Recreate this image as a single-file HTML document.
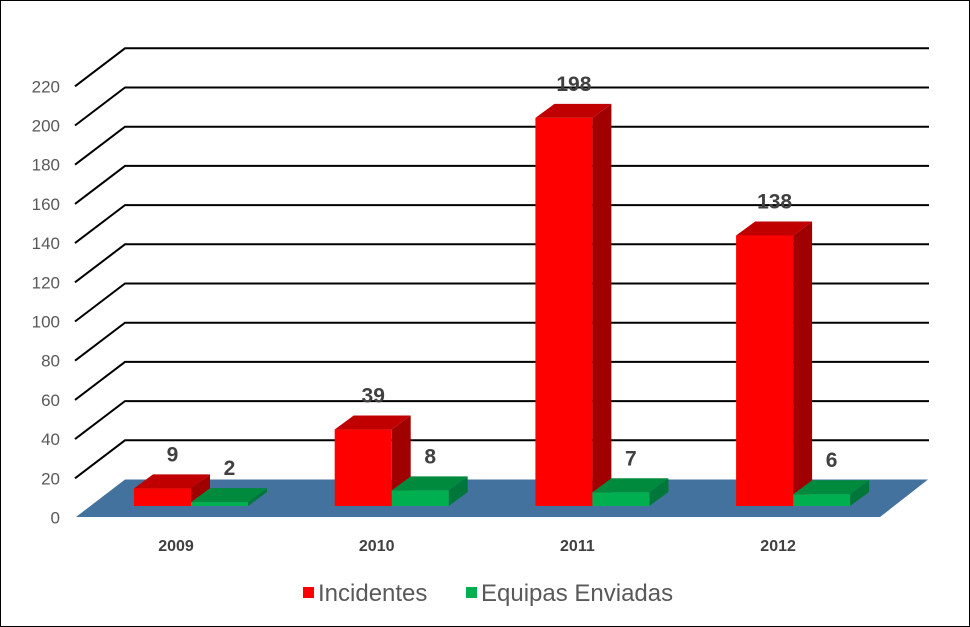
<!DOCTYPE html>
<html><head><meta charset="utf-8"><style>
body{margin:0;background:#fff;}
#wrap{position:relative;width:968px;height:625px;border:1px solid #000;overflow:hidden;}
svg text{font-family:"Liberation Sans",sans-serif;}
</style></head><body>
<div id="wrap">
<svg id="chart" width="968" height="625"></svg>
</div>
<script>
const categories=["2009","2010","2011","2012"];
const incidentes=[9,39,198,138];
const equipas=[2,8,7,6];
const ticks=[0,20,40,60,80,100,120,140,160,180,200,220];
const NS="http://www.w3.org/2000/svg";
const svg=document.getElementById('chart');
const ox=-1,oy=-1;
function el(t,a,p){const e=document.createElementNS(NS,t);for(const k in a)e.setAttribute(k,a[k]);(p||svg).appendChild(e);return e;}
const backY=v=>479.5-v*1.96+oy;
const barY=v=>506-v*1.96+oy;
const catX=i=>134+i*200.7+ox;
ticks.forEach(t=>{
  const y=backY(t);
  if(t>0){
    const g=el('polyline',{points:`${75+ox},${y+38} ${125+ox},${y} ${929+ox},${y}`,fill:'none',stroke:'#000','stroke-width':2});
    
    
  }
  const tx=el('text',{x:60+ox,y:y+38+6,'text-anchor':'end','font-size':17,fill:'#595959'});
  tx.textContent=t;
  
  
});
const fl=el('polygon',{points:`${76+ox},${517+oy} ${880+ox},${517+oy} ${928+ox},${479.5+oy} ${125+ox},${479.5+oy}`,fill:'#44729F'});


function bar(x,v,front,top,side,name){
  const w=57,dx=19,dy=14,b=506+oy,t=barY(v);
  const g=el('g',{});
  
  
  el('polygon',{points:`${x+w},${t} ${x+w+dx},${t-dy} ${x+w+dx},${b-dy} ${x+w},${b}`,fill:side},g);
  el('polygon',{points:`${x},${t} ${x+dx},${t-dy} ${x+w+dx},${t-dy} ${x+w},${t}`,fill:top},g);
  el('rect',{x:x,y:t,width:w,height:b-t,fill:front},g);
  const lb=el('text',{x:x+w/2+10,y:t-30+3,'text-anchor':'middle','font-size':21,'font-weight':'bold',fill:'#404040'});
  lb.textContent=v;
  
  
}
categories.forEach((c,i)=>{
  const x=catX(i);
  bar(x,incidentes[i],'#FF0000','#C00000','#A00000','bar-incidentes-'+c);
  bar(x+57,equipas[i],'#00B050','#008A3E','#00773A','bar-equipas-'+c);
  const t=el('text',{x:x+42,y:551+oy,'text-anchor':'middle','font-size':16,'font-weight':'bold',fill:'#404040'});
  t.textContent=c;
  
  
});
const lg=el('g',{});


const items=[['Incidentes','#FF0000',303],['Equipas Enviadas','#00B050',466]];
items.forEach(([n,col,x])=>{
  const g=el('g',{},lg);
  
  
  el('rect',{x:x+ox,y:587+oy,width:11,height:11,fill:col},g);
  const t=el('text',{x:x+15+ox,y:601+oy,'font-size':24,fill:'#595959'},g);
  t.textContent=n;
});
</script>
</body></html>
